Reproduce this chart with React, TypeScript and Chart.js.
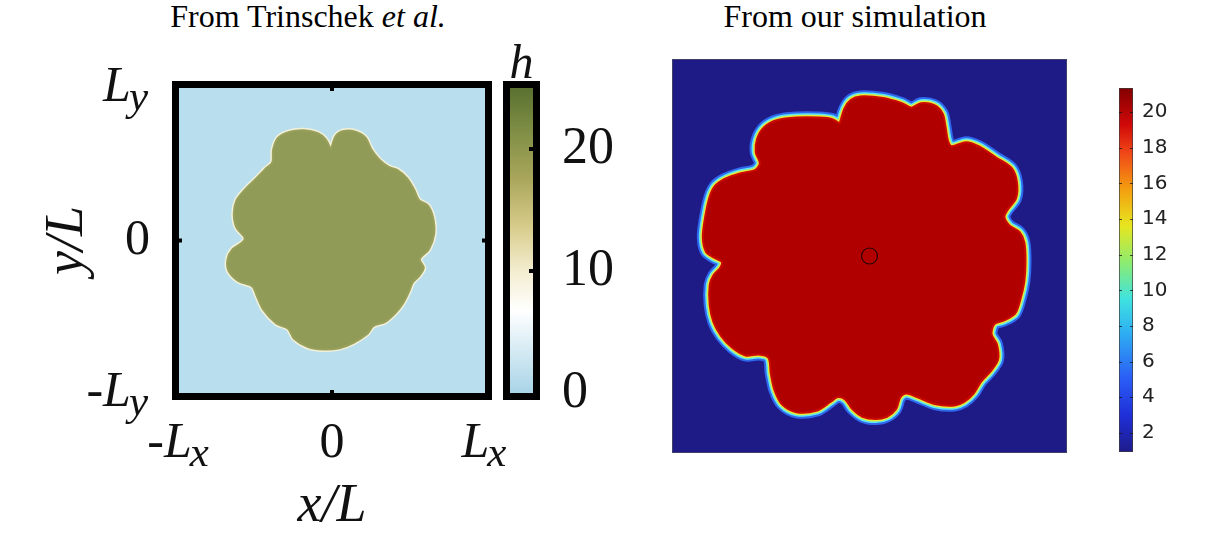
import React, { useEffect, useRef } from 'react';
import { Chart, registerables } from 'chart.js';

Chart.register(...registerables);

// ---------------- Left panel (Trinschek et al.) ----------------
const leftTitle = 'From Trinschek ';
const leftTitleItalic = 'et al.';
const leftAxisTicks = [-1, 0, 1];
const leftXTickLabels = ['-L_x', '0', 'L_x'];
const leftYTickLabels = ['-L_y', '0', 'L_y'];
const leftXTitle = 'x/L';
const leftYTitle = 'y/L';
const leftBarTitle = 'h';
const leftBarRange = [0, 25];
const leftBarTicks = [0, 10, 20];
// blob outline (x/L, y/L)
const leftBlobX = [-0.007, -0.041, -0.092, -0.183, -0.274, -0.352, -0.385, -0.39, -0.437, -0.494, -0.572, -0.624, -0.642, -0.624, -0.572, -0.585, -0.65, -0.683, -0.676, -0.611, -0.521, -0.49, -0.448, -0.365, -0.287, -0.248, -0.157, -0.053, 0.05, 0.141, 0.232, 0.271, 0.349, 0.413, 0.465, 0.504, 0.53, 0.569, 0.6, 0.574, 0.634, 0.668, 0.66, 0.626, 0.569, 0.538, 0.491, 0.426, 0.374, 0.31, 0.258, 0.219, 0.154, 0.076, 0.024];
const leftBlobY = [0.596, 0.663, 0.703, 0.723, 0.714, 0.674, 0.596, 0.512, 0.468, 0.408, 0.331, 0.264, 0.176, 0.083, 0.021, -0.012, -0.057, -0.123, -0.201, -0.267, -0.301, -0.367, -0.456, -0.544, -0.578, -0.644, -0.699, -0.715, -0.706, -0.671, -0.611, -0.56, -0.533, -0.478, -0.411, -0.334, -0.272, -0.234, -0.179, -0.123, -0.057, 0.043, 0.154, 0.231, 0.264, 0.331, 0.408, 0.464, 0.481, 0.53, 0.596, 0.674, 0.714, 0.718, 0.685];

// ---------------- Right panel (our simulation) ----------------
const rightTitle = 'From our simulation';
const rightBarRange = [0.93, 21.35];
const rightBarTicks = [2, 4, 6, 8, 10, 12, 14, 16, 18, 20];
const rightMarkerX = [0];
const rightMarkerY = [0];
const rightBlobX = [-0.151, -0.126, -0.094, -0.046, 0.069, 0.164, 0.212, 0.26, 0.326, 0.37, 0.385, 0.397, 0.416, 0.489, 0.555, 0.641, 0.718, 0.746, 0.742, 0.698, 0.683, 0.708, 0.76, 0.784, 0.79, 0.784, 0.765, 0.737, 0.679, 0.632, 0.618, 0.645, 0.651, 0.613, 0.565, 0.527, 0.479, 0.431, 0.336, 0.24, 0.187, 0.155, 0.135, 0.088, 0.031, -0.036, -0.088, -0.122, -0.16, -0.198, -0.265, -0.37, -0.443, -0.481, -0.5, -0.511, -0.561, -0.628, -0.695, -0.752, -0.79, -0.809, -0.809, -0.79, -0.756, -0.748, -0.786, -0.828, -0.844, -0.832, -0.809, -0.781, -0.733, -0.656, -0.58, -0.555, -0.576, -0.569, -0.532, -0.466, -0.37, -0.256, -0.189];
const rightBlobY = [0.672, 0.75, 0.793, 0.81, 0.802, 0.776, 0.753, 0.776, 0.767, 0.724, 0.655, 0.586, 0.557, 0.578, 0.557, 0.5, 0.448, 0.379, 0.293, 0.233, 0.198, 0.155, 0.121, 0.069, -0.026, -0.129, -0.216, -0.293, -0.328, -0.345, -0.397, -0.448, -0.526, -0.586, -0.638, -0.698, -0.741, -0.759, -0.753, -0.716, -0.698, -0.719, -0.776, -0.816, -0.828, -0.816, -0.776, -0.729, -0.716, -0.741, -0.784, -0.793, -0.753, -0.681, -0.595, -0.517, -0.5, -0.505, -0.466, -0.405, -0.336, -0.25, -0.147, -0.098, -0.06, -0.029, -0.009, 0.022, 0.095, 0.198, 0.302, 0.357, 0.391, 0.419, 0.436, 0.471, 0.526, 0.595, 0.655, 0.69, 0.703, 0.703, 0.695];

// ---------------- styles ----------------
const SERIF = '"Liberation Serif", "Times New Roman", serif';
const leftBg = '#b9deed';
const leftStops: [number, string][] = [
  [0, '#a8d4e7'], [0.27, '#ffffff'], [0.4, '#f3edcf'], [0.55, '#d6cb89'],
  [0.7, '#aaa75c'], [0.85, '#819046'], [1, '#5a7130'],
];
const rightBg = '#1e1b87';
const rightStops: [number, string][] = [
  [0, '#1e1b8a'], [0.1, '#1f2fd8'], [0.2, '#2a5cf5'], [0.33, '#2fb0f2'],
  [0.42, '#3fe2e0'], [0.52, '#8cec70'], [0.62, '#e6e620'], [0.72, '#f4a010'],
  [0.82, '#f04818'], [0.9, '#d00808'], [1, '#820000'],
];

const closed = (xs: number[], ys: number[]) => {
  const p = xs.map((x, i) => ({ x, y: ys[i] }));
  p.push(p[0]);
  return p;
};

const base: any = {
  responsive: false,
  animation: false,
  events: [],
  plugins: { legend: { display: false }, tooltip: { enabled: false }, title: { display: false } },
};

function drawRich(ctx: CanvasRenderingContext2D, text: string, x: number, baseline: number, align: string, size: number) {
  const m = text.match(/^(-?)([^_]*)(?:_(.*))?$/) || ['', '', text, ''];
  const sign = m[1] || '';
  const main = m[2] || '';
  const sub = m[3] || '';
  const isNum = /^[0-9.]+$/.test(main);
  const fPlain = `${size}px ${SERIF}`;
  const fMain = isNum ? fPlain : `italic ${size}px ${SERIF}`;
  const fSub = `italic ${Math.round(size * 0.85)}px ${SERIF}`;
  ctx.font = fPlain; const ws = ctx.measureText(sign).width;
  ctx.font = fMain; const wm = ctx.measureText(main).width;
  ctx.font = fSub; const wb = sub ? ctx.measureText(sub).width : 0;
  const total = ws + wm + wb;
  let sx = align === 'center' ? x - total / 2 : align === 'right' ? x - total : x;
  ctx.textAlign = 'left';
  ctx.textBaseline = 'alphabetic';
  ctx.font = fPlain; ctx.fillText(sign, sx, baseline); sx += ws;
  ctx.font = fMain; ctx.fillText(main, sx, baseline); sx += wm;
  if (sub) { ctx.font = fSub; ctx.fillText(sub, sx - 2, baseline + size * 0.18); }
}

const gradientFill = (stops: [number, string][], range: number[]) => (c: any) => {
  const chart = c.chart;
  if (!chart.chartArea) return stops[0][1];
  const y = chart.scales.y;
  const g = chart.ctx.createLinearGradient(0, y.getPixelForValue(range[0]), 0, y.getPixelForValue(range[1]));
  stops.forEach(([f, col]) => g.addColorStop(f, col));
  return g;
};

// ---------------- chart configs ----------------
const leftMainConfig = (): any => ({
  type: 'line',
  data: {
    datasets: [
      { data: closed(leftBlobX, leftBlobY), fill: 'shape', backgroundColor: '#909b57', borderColor: '#98a05c', borderWidth: 2, pointRadius: 0, tension: 0.3 },
      { data: closed(leftBlobX, leftBlobY), fill: false, borderColor: '#f4f1da', borderWidth: 5, pointRadius: 0, tension: 0.3 },
    ],
  },
  options: {
    ...base,
    layout: { padding: { left: 179, right: 75, top: 88, bottom: 140 } },
    scales: {
      x: { type: 'linear', min: -1, max: 1, display: false },
      y: { type: 'linear', min: -1, max: 1, display: false },
    },
  },
  plugins: [{
    id: 'leftFrame',
    beforeDraw(chart: any) {
      const { ctx, chartArea: a } = chart;
      ctx.save();
      ctx.fillStyle = leftBg;
      ctx.fillRect(a.left, a.top, a.width, a.height);
      ctx.restore();
    },
    afterDraw(chart: any) {
      const { ctx, chartArea: a, scales: { x, y } } = chart;
      ctx.save();
      ctx.strokeStyle = '#000';
      ctx.lineWidth = 7;
      ctx.strokeRect(a.left - 3.5, a.top - 3.5, a.width + 7, a.height + 7);
      ctx.fillStyle = '#000';
      leftAxisTicks.forEach((v) => {
        if (v > -1 && v < 1) {
          const px = x.getPixelForValue(v);
          const py = y.getPixelForValue(v);
          ctx.fillRect(px - 2, a.top, 4, 3);
          ctx.fillRect(px - 2, a.bottom - 3, 4, 3);
          ctx.fillRect(a.left, py - 2, 3, 4);
          ctx.fillRect(a.right - 3, py - 2, 3, 4);
        }
      });
      ctx.fillStyle = '#111';
      leftAxisTicks.forEach((v, i) => {
        drawRich(ctx, leftXTickLabels[i], x.getPixelForValue(v), a.bottom + 64, 'center', 50);
        drawRich(ctx, leftYTickLabels[i], a.left - 29, y.getPixelForValue(v) + 13, 'right', 50);
      });
      ctx.font = `italic 54px ${SERIF}`;
      ctx.textAlign = 'center';
      ctx.textBaseline = 'alphabetic';
      ctx.fillText(leftXTitle, (a.left + a.right) / 2, a.bottom + 128);
      ctx.translate(a.left - 97, (a.top + a.bottom) / 2);
      ctx.rotate(-Math.PI / 2);
      ctx.fillText(leftYTitle, 0, 0);
      ctx.restore();
    },
  }],
});

const leftBarConfig = (): any => ({
  type: 'bar',
  data: {
    labels: [leftBarTitle],
    datasets: [{ data: [leftBarRange], backgroundColor: gradientFill(leftStops, leftBarRange), borderWidth: 0, barPercentage: 1, categoryPercentage: 1 }],
  },
  options: {
    ...base,
    layout: { padding: { left: 10, right: 0, top: 88, bottom: 140 } },
    scales: {
      x: { display: false },
      y: {
        position: 'right', min: leftBarRange[0], max: leftBarRange[1],
        grid: { display: false, drawTicks: false }, border: { display: false },
        ticks: { padding: 29, color: '#111', font: { family: SERIF, size: 52 } },
        afterBuildTicks: (s: any) => { s.ticks = leftBarTicks.map((v) => ({ value: v })); },
        afterFit: (s: any) => { s.width = 87; },
      },
    },
  },
  plugins: [{
    id: 'leftBarFrame',
    afterDraw(chart: any) {
      const { ctx, chartArea: a, scales: { y } } = chart;
      ctx.save();
      ctx.strokeStyle = '#000';
      ctx.lineWidth = 7;
      ctx.strokeRect(a.left - 3.5, a.top - 3.5, a.width + 7, a.height + 7);
      ctx.fillStyle = '#000';
      leftBarTicks.forEach((v) => {
        if (v > leftBarRange[0] && v < leftBarRange[1]) {
          const py = y.getPixelForValue(v);
          ctx.fillRect(a.right - 4, py - 2, 4, 4);
        }
      });
      ctx.fillStyle = '#111';
      ctx.font = `italic 48px ${SERIF}`;
      ctx.textAlign = 'center';
      ctx.textBaseline = 'alphabetic';
      ctx.fillText(leftBarTitle, (a.left + a.right) / 2, a.top - 10);
      ctx.restore();
    },
  }],
});

const rightMainConfig = (): any => ({
  type: 'line',
  data: {
    datasets: [
      { data: rightMarkerX.map((x, i) => ({ x, y: rightMarkerY[i] })), showLine: false, pointRadius: 8, pointStyle: 'circle', pointBackgroundColor: 'rgba(0,0,0,0)', pointBorderColor: '#2a0000', pointBorderWidth: 1.2 },
      { data: closed(rightBlobX, rightBlobY), fill: 'shape', backgroundColor: '#b10000', borderColor: '#cc0a00', borderWidth: 2, pointRadius: 0, tension: 0.3 },
      { data: closed(rightBlobX, rightBlobY), fill: false, borderColor: '#e4ea3c', borderWidth: 5, pointRadius: 0, tension: 0.3 },
      { data: closed(rightBlobX, rightBlobY), fill: false, borderColor: '#5ee6f2', borderWidth: 8, pointRadius: 0, tension: 0.3 },
      { data: closed(rightBlobX, rightBlobY), fill: false, borderColor: '#2f68ee', borderWidth: 12, pointRadius: 0, tension: 0.3 },
    ],
  },
  options: {
    ...base,
    layout: { padding: { left: 52, right: 33, top: 59, bottom: 80 } },
    scales: {
      x: { type: 'linear', min: -1, max: 1, display: false },
      y: { type: 'linear', min: -1, max: 1, display: false },
    },
  },
  plugins: [{
    id: 'rightFrame',
    beforeDraw(chart: any) {
      const { ctx, chartArea: a } = chart;
      ctx.save();
      ctx.fillStyle = rightBg;
      ctx.fillRect(a.left, a.top, a.width, a.height);
      ctx.restore();
    },
    afterDraw(chart: any) {
      const { ctx, chartArea: a } = chart;
      ctx.save();
      ctx.strokeStyle = 'rgba(70,70,100,0.85)';
      ctx.lineWidth = 1;
      ctx.strokeRect(a.left + 0.5, a.top + 0.5, a.width - 1, a.height - 1);
      ctx.restore();
    },
  }],
});

const rightBarConfig = (): any => ({
  type: 'bar',
  data: {
    labels: ['h'],
    datasets: [{ data: [rightBarRange], backgroundColor: gradientFill(rightStops, rightBarRange), borderWidth: 0, barPercentage: 1, categoryPercentage: 1 }],
  },
  options: {
    ...base,
    layout: { padding: { left: 19, right: 0, top: 88, bottom: 81 } },
    scales: {
      x: { display: false },
      y: {
        position: 'right', min: rightBarRange[0], max: rightBarRange[1],
        grid: { display: false, drawTicks: false }, border: { display: false },
        ticks: { padding: 9, color: '#222', font: { family: '"DejaVu Sans", sans-serif', size: 20 } },
        afterBuildTicks: (s: any) => { s.ticks = rightBarTicks.map((v) => ({ value: v })); },
        afterFit: (s: any) => { s.width = 77; },
      },
    },
  },
  plugins: [{
    id: 'rightBarFrame',
    afterDraw(chart: any) {
      const { ctx, chartArea: a, scales: { y } } = chart;
      ctx.save();
      ctx.strokeStyle = 'rgba(60,60,60,0.7)';
      ctx.lineWidth = 1;
      ctx.strokeRect(a.left + 0.5, a.top + 0.5, a.width - 1, a.height - 1);
      ctx.fillStyle = 'rgba(20,20,20,0.75)';
      rightBarTicks.forEach((v) => {
        const py = Math.round(y.getPixelForValue(v));
        ctx.fillRect(a.left, py, 3, 1);
        ctx.fillRect(a.right - 3, py, 3, 1);
      });
      ctx.restore();
    },
  }],
});

function ChartCanvas({ x, y, w, h, make }: { x: number; y: number; w: number; h: number; make: () => any }) {
  const ref = useRef<HTMLCanvasElement | null>(null);
  useEffect(() => {
    const chart = new Chart(ref.current as HTMLCanvasElement, make());
    return () => chart.destroy();
  }, []);
  return (
    <canvas
      ref={ref}
      width={w}
      height={h}
      style={{ position: 'absolute', left: x, top: y, width: w, height: h, display: 'block' }}
    />
  );
}

export default function App() {
  const titleStyle: React.CSSProperties = {
    position: 'absolute', top: 0, textAlign: 'center', fontFamily: SERIF,
    fontSize: 32, lineHeight: '32px', color: '#000', whiteSpace: 'nowrap',
  };
  return (
    <div style={{ position: 'fixed', left: 0, top: 0, width: 1210, height: 533, background: '#fff', overflow: 'hidden' }}>
      <div style={{ ...titleStyle, left: 0, width: 616 }}>
        {leftTitle}<i>{leftTitleItalic}</i>
      </div>
      <div style={{ ...titleStyle, left: 620, width: 470 }}>{rightTitle}</div>
      <ChartCanvas x={0} y={0} w={560} h={533} make={leftMainConfig} />
      <ChartCanvas x={500} y={0} w={120} h={533} make={leftBarConfig} />
      <ChartCanvas x={620} y={0} w={480} h={533} make={rightMainConfig} />
      <ChartCanvas x={1100} y={0} w={110} h={533} make={rightBarConfig} />
    </div>
  );
}
